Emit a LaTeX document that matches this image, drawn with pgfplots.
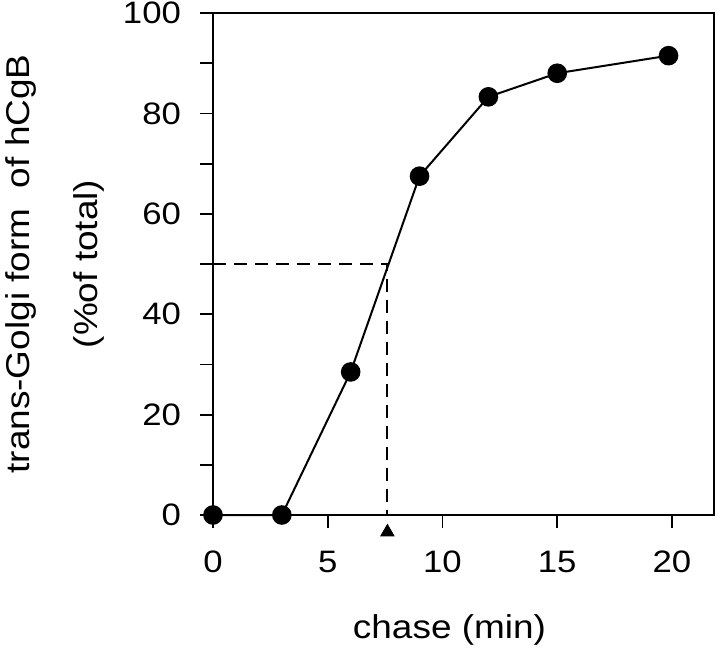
\documentclass[border=0pt]{standalone}
\usepackage{fontspec}
\setmainfont{Liberation Sans}[FakeStretch=1.12]
\usepackage{pgfplots}
\pgfplotsset{compat=1.18}
\begin{document}
\begin{tikzpicture}
\begin{axis}[
  scale only axis,
  width=250.5pt, height=251pt,
  xmin=0, xmax=21.83, ymin=0, ymax=100,
  clip=false,
  axis line style={line width=1pt},
  xtick={0,5,10,15,20},
  ytick={0,20,40,60,80,100},
  minor ytick={10,30,50,70,90},
  xtick pos=bottom, ytick pos=left,
  tick align=outside,
  major tick length=6.5pt, minor tick length=6.5pt,
  tick style={line width=0.9pt, black},
  /pgf/number format/assume math mode=true,
  ticklabel style={font=\fontsize{15.5}{18}\selectfont},
  xticklabel style={yshift=-8pt},
  yticklabel style={xshift=-6pt},
  xlabel={chase (min)},
  xlabel style={font=\fontsize{16.5}{20}\selectfont, yshift=-14pt, xshift=-7pt},
  ylabel={trans-Golgi form\ \ of hCgB\\[14pt](\%of total)},
  ylabel style={font=\fontsize{16.5}{20}\selectfont, align=center, yshift=2.5pt},
]
\coordinate (bl) at (rel axis cs:0,0);
\coordinate (tr) at (rel axis cs:1,1);
\addplot[black, line width=0.95pt, dash pattern=on 6.5pt off 4pt] coordinates {(0,50) (7.6,50) (7.6,0)};
\addplot[black, line width=1pt, mark=*, mark size=4.4pt, mark options={solid, fill=black}] coordinates {
(0,0) (3,0) (6,28.5) (9,67.5) (12,83.3) (15,88) (19.85,91.5)};
\addplot[only marks, mark=triangle*, mark size=3.8pt, black] coordinates {(7.6,-3.4)};
\end{axis}
\pgfresetboundingbox
\path ([shift={(-106.5pt,-67pt)}]bl) rectangle ([shift={(3pt,6.5pt)}]tr);
\end{tikzpicture}
\end{document}
